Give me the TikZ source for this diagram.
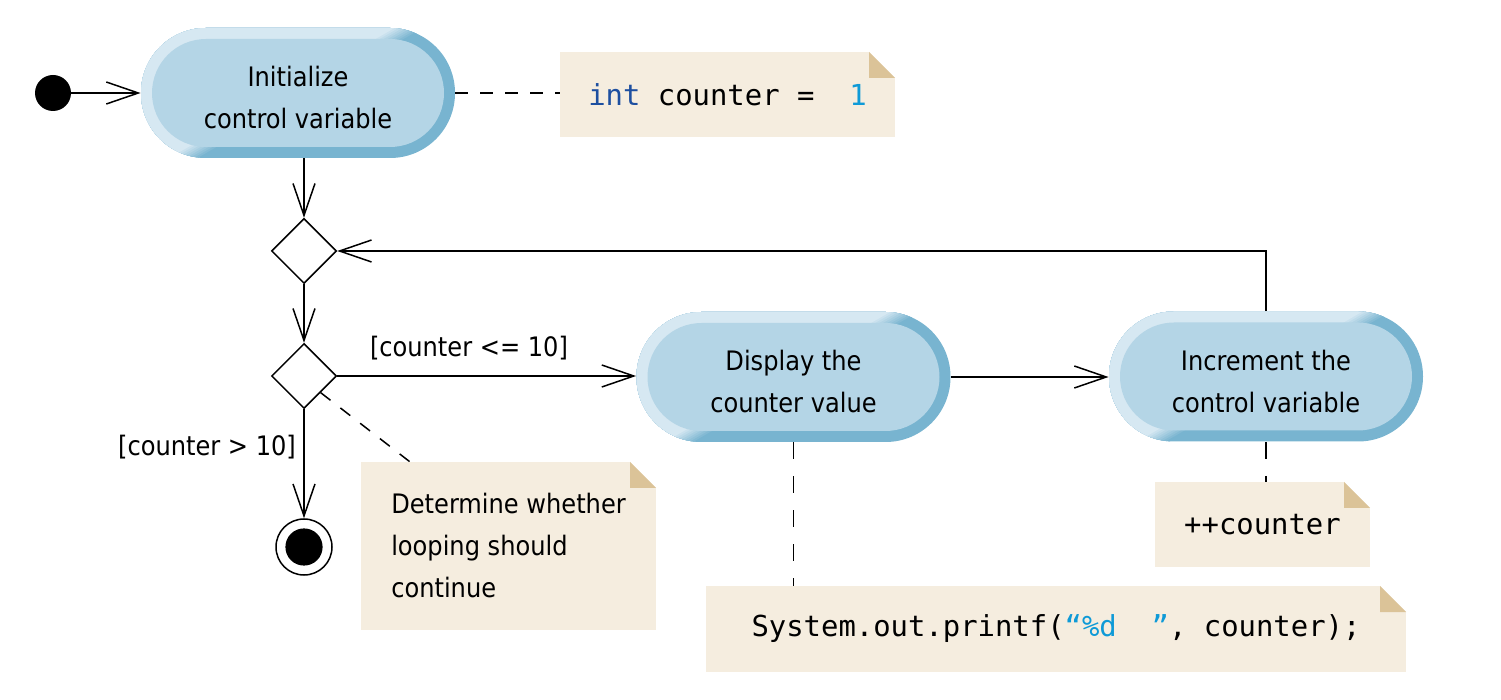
\documentclass[tikz,border=0pt]{standalone}
\usepackage{fontspec}
\setmainfont{DejaVu Sans Condensed}
\setmonofont{DejaVu Sans Mono}
\usetikzlibrary{shapes.geometric,arrows.meta,calc}
\definecolor{ringlight}{HTML}{D6E8F2}
\definecolor{ringdark}{HTML}{78B4D0}
\definecolor{actfill}{HTML}{B4D5E6}
\definecolor{notefill}{HTML}{F5EDDF}
\definecolor{foldtan}{HTML}{DBC398}
\definecolor{kwblue}{HTML}{1D4FA0}
\definecolor{litblue}{HTML}{0E9AD7}
\newcommand\actfont{\fontsize{13.4pt}{21pt}\selectfont}
\newcommand\codefont{\fontsize{14.45pt}{17pt}\selectfont\ttfamily}
\newcommand\actup{\rule{0pt}{15pt}}
\begin{document}
\begin{tikzpicture}[x=0.5pt,y=-0.5pt,
  flow/.style={line width=0.75pt, -{Straight Barb[length=16pt,width=11pt]}},
  dashline/.style={line width=0.75pt, dash pattern=on 6.25pt off 6.25pt},
  vdashline/.style={line width=0.75pt, dash pattern=on 8.5pt off 8.5pt},
  actnode/.style={rectangle, rounded corners=32.4pt, minimum width=157pt, minimum height=65pt,
    inner sep=0pt, fill=ringdark, align=center, font=\actfont,
    path picture={
      \coordinate (ppc) at (path picture bounding box.center);
      \foreach \i in {0,...,8}{
        \pgfmathsetmacro\dx{-0.5*(\i-4)}
        \pgfmathsetmacro\dy{0.866*(\i-4)}
        \pgfmathsetmacro\pp{\i*12.5}
        \fill[ringlight!\pp!ringdark, sharp corners]
          ($(ppc)+(-173.2pt,-100pt)+(\dx pt,\dy pt)$) --
          ($(ppc)+(173.2pt,100pt)+(\dx pt,\dy pt)$) --
          ($(ppc)+(-300pt,200pt)$) -- cycle;
      }
      \fill[actfill, rounded corners=27pt]
      ($(path picture bounding box.south west)+(5.5pt,5.5pt)$) rectangle
      ($(path picture bounding box.north east)-(5.5pt,5.5pt)$);}},
  notebox/.style={rectangle, fill=notefill, inner sep=0pt, font=\actfont,
    path picture={
      \fill[white] ([xshift=-13pt]path picture bounding box.north east) -- (path picture bounding box.north east)
        -- ([yshift=-13pt]path picture bounding box.north east) -- cycle;
      \fill[foldtan] ([xshift=-13pt]path picture bounding box.north east)
        -- ([xshift=-13pt,yshift=-13pt]path picture bounding box.north east)
        -- ([yshift=-13pt]path picture bounding box.north east) -- cycle;}},
  decision/.style={diamond, draw, line width=0.75pt, minimum width=32.5pt, minimum height=32.5pt, inner sep=0pt, aspect=1},
  startnode/.style={circle, fill=black, minimum size=18pt, inner sep=0pt},
  finalnode/.style={circle, draw, line width=0.75pt, fill=white, minimum size=28pt, inner sep=0pt,
    path picture={\fill[black] (path picture bounding box.center) circle (9.3pt);}},
  guard/.style={font=\actfont, inner sep=0pt}
]
\useasboundingbox (0,0) rectangle (1501,700);

\node[startnode] (start) at (53,93) {};
\node[actnode] (init) at (298,93) {\actup Initialize\\control variable};
\node[notebox, minimum width=167.5pt, minimum height=42.5pt] (nInit) at (727.5,94.5)
  {\codefont\textcolor{kwblue}{int} counter =~~\textcolor{litblue}{1}};
\node[decision] (merge) at (304,251) {};
\node[decision] (test) at (304,376) {};
\node[finalnode] (final) at (304,547) {};
\node[actnode] (display) at (793.5,377) {\actup Display the\\counter value};
\node[actnode] (incr) at (1266,376.5) {\actup Increment the\\control variable};
\node[notebox, align=left, minimum width=147.5pt, minimum height=84pt] (nTest) at (508.5,546)
  {Determine whether\\looping should\\continue};
\node[notebox, minimum width=107.5pt, minimum height=42.5pt] (nIncr) at (1262.5,524.5)
  {\codefont ++counter};
\node[notebox, minimum width=350pt, minimum height=43pt] (nDisp) at (1056,629)
  {\codefont System.out.printf(\textcolor{litblue}{“\%d~~”}, counter);};
\node[guard] (gyes) at (469,348) {[counter <= 10]};
\node[guard] (gno) at (207,447) {[counter > 10]};

\draw[flow] (start) -- (init);
\draw[flow] (merge.north |- init.south) -- (merge.north);
\draw[flow] (merge) -- (test);
\draw[flow] (test.east) -- (test.east -| display.west);
\draw[flow] (test) -- (final);
\draw[flow] (display.east) -- (display.east -| incr.west);
\draw[flow] (incr.north) |- (merge.east);
\draw[dashline] (init.east) -- (init.east -| nInit.west);
\draw[dashline] (test.south east) -- ($(nTest.north west)+(24.5pt,0)$);
\draw[vdashline] (display.south) -- (display.south |- nDisp.north);
\draw[vdashline] (incr.south) -- (incr.south |- nIncr.north);
\end{tikzpicture}
\end{document}
